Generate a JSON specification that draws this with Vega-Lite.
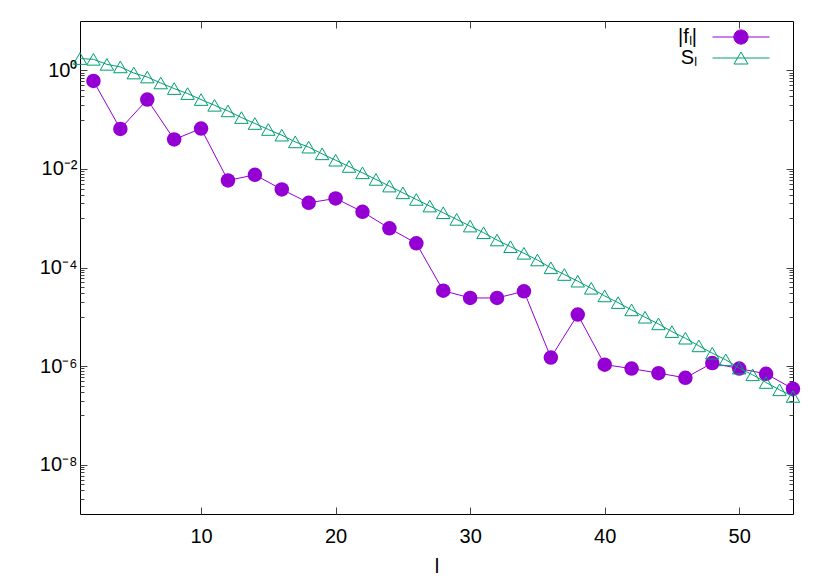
{
  "$schema": "https://vega.github.io/schema/vega-lite/v6.json",
  "width": 713,
  "height": 493,
  "autosize": {"type": "none"},
  "padding": {"left": 80, "top": 21, "right": 37, "bottom": 67},
  "background": "white",
  "config": {
    "view": {"stroke": "black", "strokeWidth": 1},
    "font": "Liberation Sans",
    "axis": {
      "grid": false,
      "domain": false,
      "tickColor": "#444",
      "tickWidth": 1,
      "labelFont": "Liberation Sans",
      "labelFontSize": 20,
      "labelColor": "black",
      "titleFont": "Liberation Sans",
      "titleFontSize": 20,
      "titleFontWeight": "normal",
      "titleColor": "black"
    },
    "legend": {
      "labelFont": "Liberation Sans",
      "labelFontSize": 20,
      "labelColor": "black"
    }
  },
  "data": {
    "values": [
      {"l": 2, "v": 0.607, "s": "f"},
      {"l": 4, "v": 0.0647, "s": "f"},
      {"l": 6, "v": 0.255, "s": "f"},
      {"l": 8, "v": 0.0395, "s": "f"},
      {"l": 10, "v": 0.0659, "s": "f"},
      {"l": 12, "v": 0.00583, "s": "f"},
      {"l": 14, "v": 0.00758, "s": "f"},
      {"l": 16, "v": 0.00384, "s": "f"},
      {"l": 18, "v": 0.00205, "s": "f"},
      {"l": 20, "v": 0.00252, "s": "f"},
      {"l": 22, "v": 0.00135, "s": "f"},
      {"l": 24, "v": 0.000622, "s": "f"},
      {"l": 26, "v": 0.000309, "s": "f"},
      {"l": 28, "v": 0.0000339, "s": "f"},
      {"l": 30, "v": 0.0000241, "s": "f"},
      {"l": 32, "v": 0.0000241, "s": "f"},
      {"l": 34, "v": 0.0000329, "s": "f"},
      {"l": 36, "v": 0.00000149, "s": "f"},
      {"l": 38, "v": 0.0000111, "s": "f"},
      {"l": 40, "v": 0.00000107, "s": "f"},
      {"l": 42, "v": 8.9e-7, "s": "f"},
      {"l": 44, "v": 7.2e-7, "s": "f"},
      {"l": 46, "v": 5.78e-7, "s": "f"},
      {"l": 48, "v": 0.00000115, "s": "f"},
      {"l": 50, "v": 8.9e-7, "s": "f"},
      {"l": 52, "v": 6.97e-7, "s": "f"},
      {"l": 54, "v": 3.46e-7, "s": "f"},
      {"l": 1, "v": 1.73, "s": "S"},
      {"l": 2, "v": 1.67, "s": "S"},
      {"l": 3, "v": 1.32, "s": "S"},
      {"l": 4, "v": 1.17, "s": "S"},
      {"l": 5, "v": 0.88, "s": "S"},
      {"l": 6, "v": 0.73, "s": "S"},
      {"l": 7, "v": 0.553, "s": "S"},
      {"l": 8, "v": 0.426, "s": "S"},
      {"l": 9, "v": 0.337, "s": "S"},
      {"l": 10, "v": 0.255, "s": "S"},
      {"l": 11, "v": 0.195, "s": "S"},
      {"l": 12, "v": 0.15, "s": "S"},
      {"l": 13, "v": 0.11, "s": "S"},
      {"l": 14, "v": 0.0833, "s": "S"},
      {"l": 15, "v": 0.063, "s": "S"},
      {"l": 16, "v": 0.0483, "s": "S"},
      {"l": 17, "v": 0.0353, "s": "S"},
      {"l": 18, "v": 0.0276, "s": "S"},
      {"l": 19, "v": 0.0202, "s": "S"},
      {"l": 20, "v": 0.015, "s": "S"},
      {"l": 21, "v": 0.0112, "s": "S"},
      {"l": 22, "v": 0.00832, "s": "S"},
      {"l": 23, "v": 0.00611, "s": "S"},
      {"l": 24, "v": 0.00448, "s": "S"},
      {"l": 25, "v": 0.00327, "s": "S"},
      {"l": 26, "v": 0.0024, "s": "S"},
      {"l": 27, "v": 0.00176, "s": "S"},
      {"l": 28, "v": 0.00129, "s": "S"},
      {"l": 29, "v": 0.000946, "s": "S"},
      {"l": 30, "v": 0.000692, "s": "S"},
      {"l": 31, "v": 0.000507, "s": "S"},
      {"l": 32, "v": 0.000361, "s": "S"},
      {"l": 33, "v": 0.000264, "s": "S"},
      {"l": 34, "v": 0.000194, "s": "S"},
      {"l": 35, "v": 0.000142, "s": "S"},
      {"l": 36, "v": 0.0000986, "s": "S"},
      {"l": 37, "v": 0.0000721, "s": "S"},
      {"l": 38, "v": 0.0000528, "s": "S"},
      {"l": 39, "v": 0.0000379, "s": "S"},
      {"l": 40, "v": 0.0000265, "s": "S"},
      {"l": 41, "v": 0.0000194, "s": "S"},
      {"l": 42, "v": 0.0000138, "s": "S"},
      {"l": 43, "v": 0.0000098, "s": "S"},
      {"l": 44, "v": 0.00000718, "s": "S"},
      {"l": 45, "v": 0.00000501, "s": "S"},
      {"l": 46, "v": 0.00000368, "s": "S"},
      {"l": 47, "v": 0.00000257, "s": "S"},
      {"l": 48, "v": 0.00000183, "s": "S"},
      {"l": 49, "v": 0.00000134, "s": "S"},
      {"l": 50, "v": 9.1e-7, "s": "S"},
      {"l": 51, "v": 6.65e-7, "s": "S"},
      {"l": 52, "v": 4.65e-7, "s": "S"},
      {"l": 53, "v": 3.3e-7, "s": "S"},
      {"l": 54, "v": 2.42e-7, "s": "S"}
    ]
  },
  "layer": [
    {
      "transform": [{"filter": "datum.s == 'f'"}],
      "mark": {"type": "line", "strokeWidth": 1},
      "encoding": {
        "x": {
          "field": "l", "type": "quantitative",
          "scale": {"domain": [1, 54], "nice": false, "zero": false},
          "axis": {"orient": "bottom", "title": "l", "values": [10, 20, 30, 40, 50], "tickSize": -7, "labelPadding": 19, "titlePadding": 10}
        },
        "y": {
          "field": "v", "type": "quantitative",
          "scale": {"type": "log", "domain": [1e-9, 10], "nice": false},
          "axis": {
            "orient": "left", "title": null,
            "values": [1, 0.9, 0.8, 0.7, 0.6, 0.5, 0.4, 0.3, 0.2, 0.1, 0.01, 0.009, 0.008, 0.007, 0.006, 0.005, 0.004, 0.003, 0.002, 0.001, 0.0001, 0.00009, 0.00008, 0.00007, 0.00006, 0.00005, 0.00004, 0.00003, 0.00002, 0.00001, 0.000001, 9e-7, 8e-7, 7e-7, 6e-7, 5e-7, 4e-7, 3e-7, 2e-7, 1e-7, 1e-8, 9e-9, 8e-9, 7e-9, 6e-9, 5e-9, 4e-9, 3e-9, 2e-9],
            "labelExpr": "datum.value == 1 ? '10⁰' : abs(datum.value/0.01 - 1) < 1e-6 ? '10⁻²' : abs(datum.value/1e-4 - 1) < 1e-6 ? '10⁻⁴' : abs(datum.value/1e-6 - 1) < 1e-6 ? '10⁻⁶' : abs(datum.value/1e-8 - 1) < 1e-6 ? '10⁻⁸' : ''",
            "tickSize": {"condition": {"test": "abs(log(datum.value)/LN10 - round(log(datum.value)/LN10)) < 1e-6 && round(log(datum.value)/LN10) % 2 == 0", "value": -7}, "value": -4},
            "labelPadding": 10,
            "labelOverlap": false,
            "labelBound": false
          }
        },
        "color": {
          "field": "s", "type": "nominal",
          "scale": {"domain": ["f", "S"], "range": ["#9400d3", "#009e73"]},
          "legend": {
            "title": null,
            "orient": "none",
            "legendX": 651,
            "legendY": 6,
            "padding": 0,
            "symbolSize": 225,
            "rowPadding": 1,
            "labelAlign": "right",
            "labelOffset": -54,
            "labelBaseline": "middle",
            "labelExpr": "datum.value == 'f' ? '|fₗ|' : 'Sₗ'",
            "encode": {
              "symbols": {
                "update": {
                  "shape": {"signal": "datum.value == 'f' ? 'M-3.8,0L3.8,0M-0.95,0A0.95,0.95,0,1,1,0.95,0A0.95,0.95,0,1,1,-0.95,0Z' : 'M-3.8,0L3.8,0M0,-0.8L-0.93,0.8L0.93,0.8Z'"},
                  "fill": {"signal": "datum.value == 'f' ? '#9400d3' : 'transparent'"},
                  "stroke": {"signal": "datum.value == 'f' ? '#9400d3' : '#009e73'"},
                  "strokeWidth": {"value": 1},
                  "opacity": {"value": 1}
                }
              }
            }
          }
        }
      }
    },
    {
      "transform": [{"filter": "datum.s == 'f'"}],
      "mark": {"type": "point", "shape": "circle", "filled": true, "size": 210, "color": "#9400d3", "opacity": 1},
      "encoding": {
        "x": {"field": "l", "type": "quantitative", "axis": null},
        "y": {"field": "v", "type": "quantitative", "axis": null}
      }
    },
    {
      "transform": [{"filter": "datum.s == 'S'"}],
      "mark": {"type": "line", "strokeWidth": 1, "color": "#009e73"},
      "encoding": {
        "x": {
          "field": "l", "type": "quantitative",
          "axis": {"orient": "top", "title": null, "labels": false, "values": [10, 20, 30, 40, 50], "tickSize": -7}
        },
        "y": {
          "field": "v", "type": "quantitative",
          "axis": {
            "orient": "right", "title": null, "labels": false,
            "values": [1, 0.9, 0.8, 0.7, 0.6, 0.5, 0.4, 0.3, 0.2, 0.1, 0.01, 0.009, 0.008, 0.007, 0.006, 0.005, 0.004, 0.003, 0.002, 0.001, 0.0001, 0.00009, 0.00008, 0.00007, 0.00006, 0.00005, 0.00004, 0.00003, 0.00002, 0.00001, 0.000001, 9e-7, 8e-7, 7e-7, 6e-7, 5e-7, 4e-7, 3e-7, 2e-7, 1e-7, 1e-8, 9e-9, 8e-9, 7e-9, 6e-9, 5e-9, 4e-9, 3e-9, 2e-9],
            "tickSize": {"condition": {"test": "abs(log(datum.value)/LN10 - round(log(datum.value)/LN10)) < 1e-6 && round(log(datum.value)/LN10) % 2 == 0", "value": -7}, "value": -4}
          }
        }
      }
    },
    {
      "transform": [{"filter": "datum.s == 'S'"}],
      "mark": {"type": "point", "shape": "triangle-up", "filled": false, "size": 180, "color": "#009e73", "strokeWidth": 1, "opacity": 1},
      "encoding": {
        "x": {"field": "l", "type": "quantitative", "axis": null},
        "y": {"field": "v", "type": "quantitative", "axis": null}
      }
    }
  ],
  "resolve": {"axis": {"x": "independent", "y": "independent"}}
}
